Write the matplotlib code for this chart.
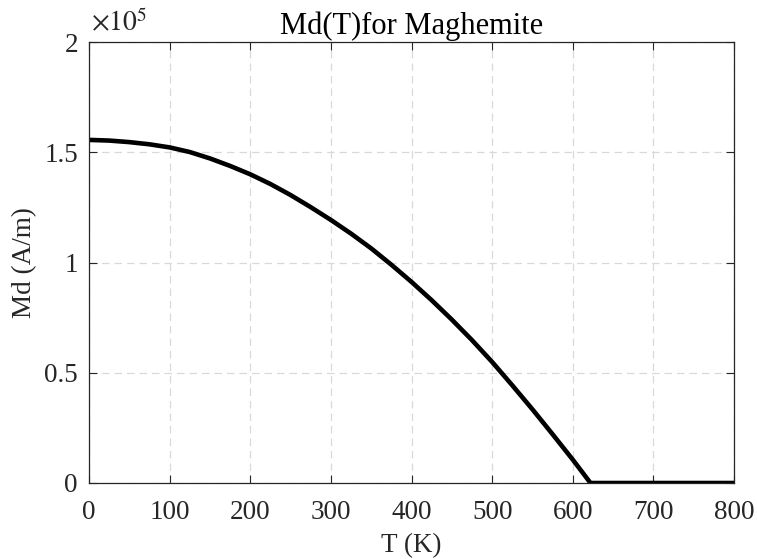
import numpy as np
import matplotlib.pyplot as plt
from matplotlib.ticker import FuncFormatter

# Temperature (K) and spontaneous magnetisation Md (A/m)
T = [0, 25, 50, 75, 100, 125, 150, 175, 200, 225, 250, 275, 300, 325, 350,
     375, 400, 425, 450, 475, 500, 525, 550, 575, 600, 622, 700, 800]
Md = [1.556e5, 1.553e5, 1.546e5, 1.536e5, 1.522e5, 1.501e5, 1.472e5, 1.438e5,
      1.400e5, 1.356e5, 1.306e5, 1.251e5, 1.193e5, 1.131e5, 1.064e5, 0.990e5,
      0.912e5, 0.829e5, 0.741e5, 0.648e5, 0.549e5, 0.443e5, 0.334e5, 0.221e5,
      0.106e5, 0.0, 0.0, 0.0]

title = 'Md(T)for Maghemite'
x_ticks = [0, 100, 200, 300, 400, 500, 600, 700, 800]
y_ticks = [0, 0.5e5, 1e5, 1.5e5, 2e5]

plt.rcParams['font.family'] = ['Liberation Serif', 'DejaVu Serif']
plt.rcParams['mathtext.fontset'] = 'stix'

fig = plt.figure(figsize=(7.57, 5.59), dpi=100)
ax = fig.add_axes([89/757, 76/559, 645/757, 441/559])

ax.plot(T, Md, color='black', linewidth=3.3, solid_joinstyle='round')

ax.set_xlim(0, 800)
ax.set_ylim(0, 2e5)
ax.set_xticks(x_ticks)
ax.set_yticks(y_ticks)
ax.yaxis.set_major_formatter(FuncFormatter(lambda v, p: '%g' % (v / 1e5)))

grey = '#262626'
ax.grid(True, linestyle=(0, (6, 4)), color='#d9d9d9', linewidth=0.9)
ax.set_axisbelow(True)
ax.tick_params(direction='in', length=6, width=0.8, colors=grey,
               labelsize=19.5, top=True, right=True)
ax.tick_params(axis='x', pad=12)
ax.tick_params(axis='y', pad=8)
for s in ax.spines.values():
    s.set_color(grey)
    s.set_linewidth(0.9)

ax.set_xlabel('T (K)', fontsize=19.5, color=grey, labelpad=6)
ax.set_ylabel('Md (A/m)', fontsize=19.5, color=grey, labelpad=5)
ax.set_title(title, fontsize=22, color='black', pad=6)
ax.text(0.003, 1.01, r'$\times10^{5}$', transform=ax.transAxes, fontsize=20,
        color=grey, ha='left', va='bottom')

fig.savefig('out.png', dpi=100)
